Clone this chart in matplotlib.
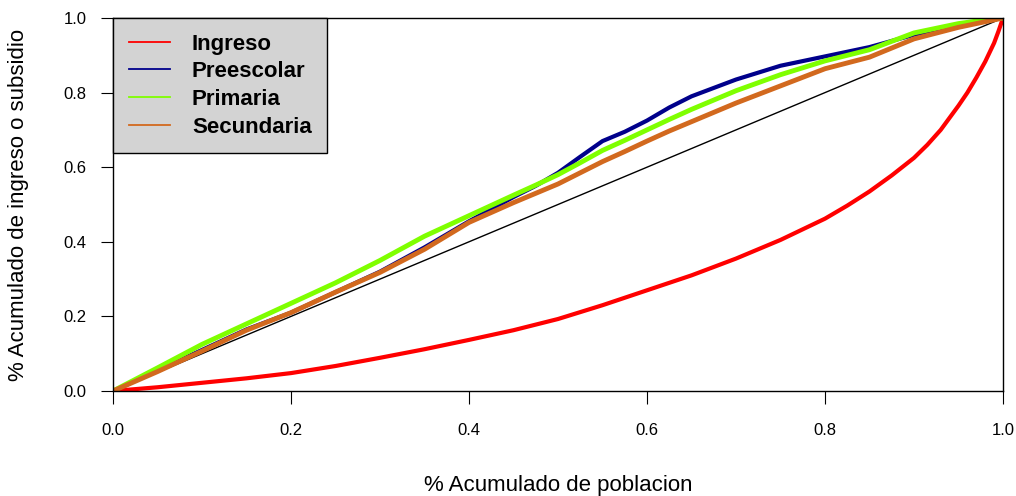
import matplotlib
matplotlib.use("Agg")
import matplotlib.pyplot as plt
from matplotlib.lines import Line2D

plt.rcParams['font.family'] = ['Liberation Sans', 'DejaVu Sans']

# cumulative population share (common grid for the subsidy curves)
pob = [0, 0.05, 0.1, 0.15, 0.2, 0.25, 0.3, 0.35, 0.4, 0.45, 0.475, 0.5, 0.525, 0.55, 0.575,
       0.6, 0.625, 0.65, 0.7, 0.75, 0.8, 0.85, 0.9, 0.95, 0.98, 1.0]

preescolar = [0, 0.055, 0.11, 0.165, 0.21, 0.265, 0.32, 0.385, 0.455, 0.52, 0.55, 0.585, 0.628,
              0.67, 0.695, 0.725, 0.76, 0.79, 0.835, 0.872, 0.897, 0.922, 0.955, 0.98, 0.993, 1.0]
primaria = [0, 0.062, 0.125, 0.18, 0.235, 0.29, 0.35, 0.415, 0.47, 0.525, 0.552, 0.58, 0.612,
            0.645, 0.672, 0.70, 0.728, 0.755, 0.805, 0.848, 0.885, 0.915, 0.96, 0.985, 0.995, 1.0]
secundaria = [0, 0.052, 0.107, 0.163, 0.21, 0.265, 0.318, 0.38, 0.452, 0.505, 0.53, 0.555, 0.585,
              0.615, 0.642, 0.67, 0.697, 0.722, 0.772, 0.818, 0.864, 0.895, 0.944, 0.975, 0.99, 1.0]

# Lorenz curve of income
pob_ingreso = [0, 0.05, 0.1, 0.15, 0.2, 0.25, 0.3, 0.35, 0.4, 0.45, 0.5, 0.55, 0.6, 0.65,
               0.7, 0.75, 0.8, 0.825, 0.85, 0.875, 0.9, 0.915, 0.93, 0.95, 0.96, 0.97,
               0.98, 0.99, 0.995, 1.0]
ingreso = [0, 0.01, 0.022, 0.034, 0.048, 0.067, 0.089, 0.112, 0.137, 0.163, 0.193, 0.23, 0.27,
           0.31, 0.355, 0.405, 0.462, 0.497, 0.535, 0.578, 0.625, 0.66, 0.70, 0.765, 0.80,
           0.84, 0.883, 0.933, 0.965, 1.0]

series = ["Ingreso", "Preescolar", "Primaria", "Secundaria"]
colores = ["#FF0000", "#00008B", "#7FFF00", "#D2691E"]

fig = plt.figure(figsize=(10.16, 4.96), dpi=100)
ax = fig.add_axes([113 / 1016, 1 - 391 / 496, 890 / 1016, 373 / 496])

ax.plot([0, 1], [0, 1], color="black", lw=1.0)
ax.plot(pob_ingreso, ingreso, color=colores[0], lw=3.0)
ax.plot(pob, preescolar, color=colores[1], lw=3.0)
ax.plot(pob, primaria, color=colores[2], lw=3.5)
ax.plot(pob, secundaria, color=colores[3], lw=3.5)

ax.set_xlim(0, 1)
ax.set_ylim(0, 1)
ticks = [0, 0.2, 0.4, 0.6, 0.8, 1.0]
ax.set_xticks(ticks)
ax.set_yticks(ticks)
ax.set_xticklabels([f"{t:.1f}" for t in ticks])
ax.set_yticklabels([f"{t:.1f}" for t in ticks])
ax.tick_params(axis="both", length=9, width=0.8, labelsize=12)
ax.tick_params(axis="x", pad=14)
ax.tick_params(axis="y", pad=10)
for s in ax.spines.values():
    s.set_linewidth(1.0)

ax.set_xlabel("% Acumulado de poblacion", fontsize=16, va="center")
ax.xaxis.set_label_coords(0.5, (391 - 486) / 373)
ax.set_ylabel("% Acumulado de ingreso o subsidio", fontsize=16, va="center")
ax.yaxis.set_label_coords((19 - 113) / 890, 0.5)

handles = [Line2D([], [], color=c, lw=1.3) for c in colores]
leg = ax.legend(handles, series, loc="upper left", bbox_to_anchor=(0, 1), borderaxespad=0,
                prop={"weight": "bold", "size": 16}, handlelength=1.85, handletextpad=1.0,
                labelspacing=0.3, borderpad=0.7, fancybox=False, framealpha=1)
leg.get_frame().set_facecolor("#D3D3D3")
leg.get_frame().set_edgecolor("black")
leg.get_frame().set_linewidth(1.0)

fig.savefig("out.png", dpi=100)
